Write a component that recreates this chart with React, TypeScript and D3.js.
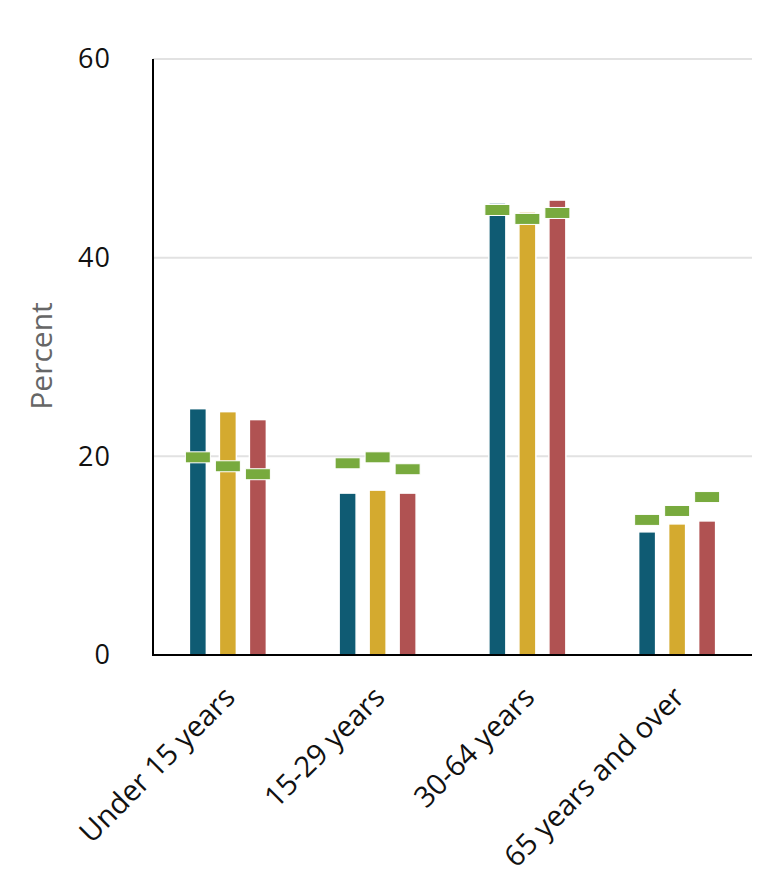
import * as d3 from 'd3';
import React, { useRef, useEffect } from 'react';

const categories = ['Under 15 years', '15-29 years', '30-64 years', '65 years and over'];
const seriesNames = ['s1', 's2', 's3'];
// bar values per series (percent), one entry per category
const barValues = [
  [24.8, 16.3, 45.5, 12.4],
  [24.5, 16.6, 44.6, 13.2],
  [23.7, 16.3, 45.8, 13.5],
];
// green marker values per series
const markerValues = [
  [19.9, 19.3, 44.8, 13.6],
  [19.0, 19.9, 43.9, 14.5],
  [18.2, 18.7, 44.5, 15.9],
];
const yTicks = [0, 20, 40, 60];

const colors = ['#0f5b73', '#d4aa2f', '#b05252'];
const markerColor = '#78aa3e';

const W = 782;
const H = 886;

const App = () => {
  const svgRef = useRef(null);

  useEffect(() => {
    if (!svgRef.current) return;
    const svg = d3.select(svgRef.current);
    svg.selectAll('*').remove();

    const margin = { top: 59, right: 30, bottom: 231, left: 153 };
    const innerW = W - margin.left - margin.right;
    const innerH = H - margin.top - margin.bottom;
    const font = "'Open Sans', sans-serif";

    const g = svg.append('g').attr('transform', `translate(${margin.left},${margin.top})`);

    const x0 = d3.scaleBand().domain(categories).range([0, innerW]).padding(0);
    const x1 = d3.scalePoint().domain(seriesNames).range([-30, 30]);
    const y = d3.scaleLinear().domain([0, 60]).range([innerH, 0]);

    // gridlines
    g.selectAll('line.grid')
      .data(yTicks.filter((t) => t > 0))
      .enter()
      .append('line')
      .attr('x1', 0)
      .attr('x2', innerW)
      .attr('y1', (d) => y(d))
      .attr('y2', (d) => y(d))
      .attr('stroke', '#e2e2e2')
      .attr('stroke-width', 2);

    // y tick labels
    g.selectAll('text.ytick')
      .data(yTicks)
      .enter()
      .append('text')
      .attr('x', -42)
      .attr('y', (d) => y(d))
      .attr('dy', '0.35em')
      .attr('text-anchor', 'end')
      .attr('font-family', font)
      .attr('font-size', 27)
      .attr('letter-spacing', 1)
      .attr('fill', '#111')
      .text((d) => d);

    const barW = 17;
    const markW = 25;
    const markH = 11;

    const flat = [];
    seriesNames.forEach((s, si) => {
      categories.forEach((c, ci) => {
        flat.push({ s, si, c, v: barValues[si][ci], m: markerValues[si][ci] });
      });
    });

    const cx = (d) => x0(d.c) + x0.bandwidth() / 2 + x1(d.s);

    // bars
    g.selectAll('rect.bar')
      .data(flat)
      .enter()
      .append('rect')
      .attr('x', (d) => cx(d) - barW / 2)
      .attr('y', (d) => y(d.v))
      .attr('width', barW)
      .attr('height', (d) => innerH - y(d.v))
      .attr('fill', (d) => colors[d.si])
      .attr('stroke', '#fff')
      .attr('stroke-width', 1.5);

    // markers
    g.selectAll('rect.mark')
      .data(flat)
      .enter()
      .append('rect')
      .attr('x', (d) => cx(d) - markW / 2)
      .attr('y', (d) => y(d.m) - markH / 2)
      .attr('width', markW)
      .attr('height', markH)
      .attr('fill', markerColor)
      .attr('stroke', '#fff')
      .attr('stroke-width', 1);

    // axes lines
    g.append('line')
      .attr('x1', 0).attr('x2', 0)
      .attr('y1', 0).attr('y2', innerH + 1)
      .attr('stroke', '#000').attr('stroke-width', 2);
    g.append('line')
      .attr('x1', -1).attr('x2', innerW)
      .attr('y1', innerH).attr('y2', innerH)
      .attr('stroke', '#000').attr('stroke-width', 2);

    // x labels
    g.selectAll('text.xlab')
      .data(categories)
      .enter()
      .append('text')
      .attr('transform', (d) => `translate(${x0(d) + x0.bandwidth() / 2 + 9},${innerH + 44}) rotate(-45)`)
      .attr('text-anchor', 'end')
      .attr('font-family', font)
      .attr('font-size', 29)
      .attr('fill', '#111')
      .text((d) => d);

    // y label
    svg.append('text')
      .attr('transform', `translate(52,356) rotate(-90)`)
      .attr('text-anchor', 'middle')
      .attr('font-family', font)
      .attr('font-size', 30)
      .attr('fill', '#666')
      .text('Percent');
  }, []);

  return (
    <div style={{ position: 'absolute', top: 0, left: 0 }}>
      <svg ref={svgRef} width={W} height={H} />
    </div>
  );
};

export default App;
